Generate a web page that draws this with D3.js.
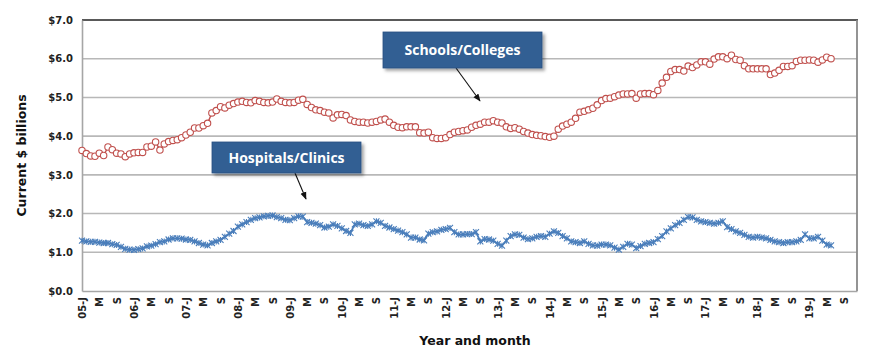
<!DOCTYPE html>
<html><head><meta charset="utf-8">
<script src="https://cdn.jsdelivr.net/npm/d3@7"></script>
<style>
html,body{margin:0;padding:0;background:#fff;}
svg{display:block;}
</style></head>
<body>
<svg id="chart" width="870" height="354"></svg>
<script>
// ---- data ----
const years = ["05","06","07","08","09","10","11","12","13","14","15","16","17","18","19"];
const monthLetters = ["J","F","M","A","M","J","J","A","S","O","N","D"];
const tickEvery = 4;
const yTicks = [0,1,2,3,4,5,6,7];

const schoolsColleges = [
3.63,3.55,3.49,3.48,3.56,3.50,3.72,3.65,3.56,3.54,
3.47,3.54,3.57,3.58,3.58,3.72,3.74,3.85,3.64,3.80,
3.86,3.89,3.91,3.96,4.03,4.10,4.21,4.21,4.27,4.33,
4.60,4.66,4.76,4.73,4.80,4.84,4.88,4.90,4.87,4.86,
4.92,4.90,4.87,4.86,4.88,4.96,4.90,4.87,4.86,4.87,
4.93,4.95,4.82,4.74,4.68,4.66,4.62,4.60,4.47,4.55,
4.56,4.53,4.42,4.38,4.36,4.36,4.34,4.36,4.38,4.42,
4.44,4.36,4.28,4.23,4.22,4.24,4.24,4.24,4.09,4.08,
4.10,3.96,3.94,3.94,3.96,4.04,4.10,4.12,4.14,4.16,
4.23,4.28,4.31,4.36,4.36,4.40,4.36,4.34,4.24,4.20,
4.22,4.18,4.12,4.08,4.04,4.02,4.01,3.99,3.97,4.00,
4.18,4.26,4.31,4.36,4.46,4.62,4.64,4.68,4.72,4.81,
4.92,4.97,4.98,5.02,5.06,5.09,5.09,5.10,4.98,5.09,
5.10,5.10,5.07,5.18,5.37,5.52,5.67,5.72,5.72,5.68,
5.81,5.77,5.84,5.92,5.92,5.86,5.99,6.05,6.05,6.00,
6.09,5.98,5.96,5.82,5.74,5.74,5.74,5.74,5.74,5.59,
5.63,5.70,5.80,5.80,5.82,5.93,5.96,5.96,5.97,5.96,
5.91,5.97,6.04,6.00];

const hospitalsClinics = [
1.30,1.28,1.27,1.27,1.25,1.24,1.24,1.21,1.19,1.14,
1.09,1.07,1.06,1.08,1.10,1.15,1.17,1.21,1.26,1.28,
1.33,1.36,1.36,1.35,1.33,1.32,1.28,1.24,1.20,1.18,
1.24,1.28,1.32,1.40,1.48,1.55,1.66,1.72,1.78,1.84,
1.88,1.90,1.93,1.94,1.95,1.91,1.88,1.84,1.83,1.88,
1.93,1.92,1.78,1.76,1.74,1.70,1.64,1.66,1.72,1.68,
1.62,1.55,1.50,1.72,1.74,1.70,1.68,1.72,1.80,1.76,
1.68,1.64,1.60,1.56,1.52,1.46,1.38,1.38,1.33,1.31,
1.48,1.52,1.54,1.58,1.60,1.63,1.52,1.46,1.46,1.47,
1.47,1.52,1.28,1.34,1.33,1.30,1.22,1.17,1.30,1.42,
1.46,1.45,1.38,1.34,1.36,1.40,1.42,1.40,1.48,1.54,
1.50,1.42,1.36,1.28,1.26,1.24,1.28,1.22,1.18,1.17,
1.20,1.20,1.18,1.12,1.07,1.14,1.22,1.20,1.11,1.16,
1.22,1.24,1.26,1.34,1.42,1.54,1.62,1.70,1.76,1.84,
1.91,1.90,1.84,1.80,1.78,1.76,1.74,1.76,1.80,1.65,
1.60,1.54,1.50,1.45,1.40,1.38,1.40,1.38,1.36,1.32,
1.28,1.26,1.24,1.26,1.26,1.28,1.32,1.46,1.36,1.36,
1.40,1.30,1.20,1.18];

const annotations = [
  {text:"Schools/Colleges"},
  {text:"Hospitals/Clinics"}
];

// ---- categories ----
const categories = [];
years.forEach(y => monthLetters.forEach((m, mi) => categories.push(y + "|" + mi)));
function catLabel(c){
  const [y, mi] = c.split("|"); const m = +mi;
  return m === 0 ? y + "-" + monthLetters[m] : monthLetters[m];
}

// ---- layout ----
const L = 82, R = 857, T = 20, B = 291;
const svg = d3.select("#chart");
const x = d3.scalePoint().domain(categories).range([L, R]);
const y = d3.scaleLinear().domain([0, 7]).range([B, T]);
const fontAxis = "'DejaVu Sans', sans-serif";

// grid lines
svg.append("g").selectAll("line").data(yTicks.filter(d => d > 0 && d < 7)).join("line")
  .attr("x1", L).attr("x2", R).attr("y1", d => y(d)).attr("y2", d => y(d))
  .attr("stroke", "#b8b8b8").attr("stroke-width", 1.6);

// frame
svg.append("line").attr("x1", L).attr("x2", R + 1).attr("y1", T).attr("y2", T)
  .attr("stroke", "#222").attr("stroke-width", 1.3);
svg.append("line").attr("x1", R).attr("x2", R).attr("y1", T).attr("y2", B)
  .attr("stroke", "#888").attr("stroke-width", 1.8);

// y axis
const yAxis = d3.axisLeft(y).tickValues(yTicks).tickFormat(d => "$" + d3.format(".1f")(d)).tickSize(0).tickPadding(9);
const gy = svg.append("g").attr("transform", `translate(${L},0)`).call(yAxis);
gy.select(".domain").attr("stroke", "#a6a6a6").attr("stroke-width", 1.6);
gy.selectAll("text").attr("font-family", fontAxis).attr("font-weight", "bold")
  .attr("font-size", 10).attr("fill", "#222");

// x axis
const tickCats = categories.filter((c, i) => i % tickEvery === 0);
const xAxis = d3.axisBottom(x).tickValues(tickCats).tickFormat(catLabel).tickSize(0).tickPadding(6);
const gx = svg.append("g").attr("transform", `translate(0,${B})`).call(xAxis);
gx.select(".domain").attr("stroke", "#a6a6a6").attr("stroke-width", 1.6);
gx.selectAll("text").attr("font-family", fontAxis).attr("font-weight", "bold")
  .attr("font-size", 10).attr("fill", "#222")
  .attr("transform", "rotate(-90)").attr("text-anchor", "end")
  .attr("dy", "0.35em").attr("x", -6).attr("y", 0);

// axis titles
svg.append("text").attr("transform", `translate(26,${(T + B) / 2}) rotate(-90)`)
  .attr("text-anchor", "middle").attr("font-family", fontAxis).attr("font-weight", "bold")
  .attr("font-size", 12.5).attr("fill", "#111").text("Current $ billions");
svg.append("text").attr("x", 475).attr("y", 345)
  .attr("text-anchor", "middle").attr("font-family", fontAxis).attr("font-weight", "bold")
  .attr("font-size", 12.5).attr("fill", "#111").text("Year and month");

// series
const schoolsColor = "#c0504d", hospColor = "#4a7ebb";
const line = d3.line().x((d, i) => x(categories[i])).y(d => y(d));

svg.append("path").datum(hospitalsClinics).attr("d", line)
  .attr("fill", "none").attr("stroke", hospColor).attr("stroke-width", 1.8);
const star = svg.append("g").selectAll("g").data(hospitalsClinics).join("g")
  .attr("transform", (d, i) => `translate(${x(categories[i])},${y(d)})`);
const s = 3;
star.append("path").attr("d", `M${-s},${-s}L${s},${s}M${-s},${s}L${s},${-s}M0,${-s}L0,${s}`)
  .attr("stroke", hospColor).attr("stroke-width", 1.1).attr("fill", "none");

svg.append("path").datum(schoolsColleges).attr("d", line)
  .attr("fill", "none").attr("stroke", schoolsColor).attr("stroke-width", 1.4);
svg.append("g").selectAll("circle").data(schoolsColleges).join("circle")
  .attr("cx", (d, i) => x(categories[i])).attr("cy", d => y(d)).attr("r", 3.2)
  .attr("fill", "#fff").attr("stroke", schoolsColor).attr("stroke-width", 1.1);

// annotations
const defs = svg.append("defs");
const f = defs.append("filter").attr("id", "sh").attr("x", "-20%").attr("y", "-20%").attr("width", "140%").attr("height", "160%");
f.append("feDropShadow").attr("dx", 2.5).attr("dy", 2.5).attr("stdDeviation", 1.6).attr("flood-color", "#000").attr("flood-opacity", 0.35);
defs.append("marker").attr("id", "arr").attr("viewBox", "0 0 10 10").attr("refX", 9).attr("refY", 5)
  .attr("markerWidth", 7).attr("markerHeight", 7).attr("orient", "auto")
  .append("path").attr("d", "M0,1L10,5L0,9Z").attr("fill", "#111");

const boxes = [
  {box:[383, 32, 159, 36], arrow:[456, 68, 480, 101]},
  {box:[212, 142, 149, 31], arrow:[295, 173, 306, 199]}
];
boxes.forEach((b, k) => {
  const [bx, by, bw, bh] = b.box;
  svg.append("line").attr("x1", b.arrow[0]).attr("y1", b.arrow[1]).attr("x2", b.arrow[2]).attr("y2", b.arrow[3])
    .attr("stroke", "#111").attr("stroke-width", 1.1).attr("marker-end", "url(#arr)");
  svg.append("rect").attr("x", bx).attr("y", by).attr("width", bw).attr("height", bh)
    .attr("fill", "#335f93").attr("stroke", "#2a5080").attr("stroke-width", 0.8).attr("filter", "url(#sh)");
  svg.append("text").attr("x", bx + bw / 2).attr("y", by + bh / 2).attr("dy", "0.36em")
    .attr("text-anchor", "middle").attr("font-family", "'Open Sans', sans-serif").attr("font-weight", "bold")
    .attr("font-size", 14).attr("fill", "#fff").text(annotations[k].text);
});
</script>
</body></html>
